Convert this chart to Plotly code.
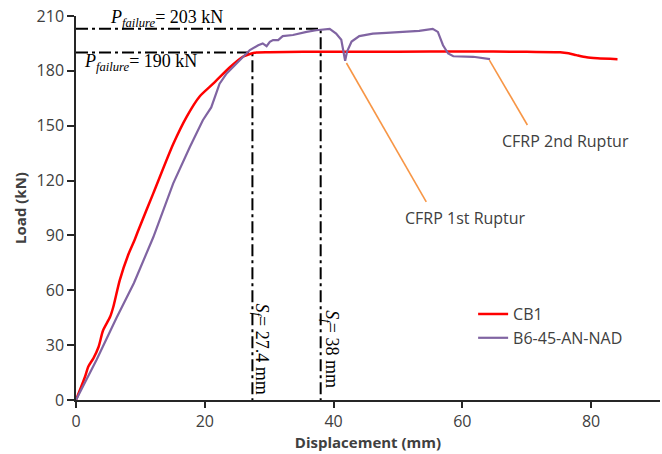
import plotly.graph_objects as go

# Load-displacement response of the control beam and the strengthened beam
cb1_disp = [0, 1.4, 1.9, 2.7, 3.5, 4.2, 5.3, 5.8, 6.8, 8.1, 9.1, 9.7, 12.0, 15.1,
            17.2, 19.2, 21.3, 23.9, 25.9, 27.0, 28.0, 30, 40, 50, 60, 70, 75.2,
            76.5, 77.7, 79.3, 81.0, 84.1]
cb1_load = [0, 12.7, 18.2, 22.8, 29, 38, 45.5, 51, 65.6, 79.3, 87.5, 93, 113, 140,
            155, 166, 173, 182, 187.7, 189.2, 190, 190.2, 190.5, 190.5, 190.6, 190.4,
            190.2, 189.6, 188.6, 187.4, 186.9, 186.4]

b6_disp = [0, 3.2, 6.3, 9.0, 12.0, 15.1, 17.7, 19.7, 21.0, 22.3, 23.4, 24.9, 26.5,
           27.0, 28.3, 29.0, 29.6, 30.1, 30.6, 31.4, 32.1, 33.7, 35.8, 37.3, 39.4,
           40.4, 41.2, 41.8, 42.1, 42.8, 44.0, 46.1, 48.2, 53.3, 55.4, 56.2, 57.0,
           57.8, 58.6, 61.7, 64.3]
b6_load = [0, 22, 45, 64, 89, 118.5, 138.5, 153, 160, 173, 178.6, 184, 189.5,
           191.4, 194, 195, 193.5, 195.9, 196.8, 196.8, 199, 199.6, 201.3, 202.2, 203,
           200.4, 197, 185.5, 190.6, 196, 199, 200.4, 200.8, 201.9, 203, 201.3, 194,
           189.5, 188, 187.7, 186.4]

series_names = ["CB1", "B6-45-AN-NAD"]
series_colors = ["#FF0000", "#8064A2"]

# Failure loads (kN) and the matching displacements (mm)
p_failure = [190, 203]
s_failure = [27.4, 38]

# Callouts for the CFRP rupture events: (start on curve, end of leader, label centre)
rupture_labels = ["CFRP 1st Ruptur", "CFRP 2nd Ruptur"]
rupture_start = [(42.0, 184.3), (64.2, 185.9)]
rupture_end = [(54.4, 108.4), (70.1, 150.4)]
rupture_text_pos = [(60.5, 99.3), (76.0, 141.4)]

x_ticks = [0, 20, 40, 60, 80]
y_ticks = [0, 30, 60, 90, 120, 150, 180, 210]

axis_color = "#262626"
text_color = "#404040"
ref_dash = "12px,4px,3px,4px"

fig = go.Figure()

# Dash-dot reference lines for each failure point
for p, s in zip(p_failure, s_failure):
    fig.add_trace(go.Scatter(
        x=[0, s, s], y=[p, p, 0], mode="lines",
        line=dict(color="black", width=2, dash=ref_dash),
        showlegend=False, hoverinfo="skip"))

fig.add_trace(go.Scatter(x=cb1_disp, y=cb1_load, mode="lines", name=series_names[0],
                         line=dict(color=series_colors[0], width=2.5,
                                   shape="spline", smoothing=0.7)))
fig.add_trace(go.Scatter(x=b6_disp, y=b6_load, mode="lines", name=series_names[1],
                         line=dict(color=series_colors[1], width=2.2)))

# Leader lines for the rupture callouts
for (x0, y0), (x1, y1) in zip(rupture_start, rupture_end):
    fig.add_trace(go.Scatter(x=[x0, x1], y=[y0, y1], mode="lines",
                             line=dict(color="#F79646", width=1.6),
                             showlegend=False, hoverinfo="skip"))

serif = "Liberation Serif"
annotations = []
annotations.append(dict(x=4.9, y=p_failure[1], yshift=10, xanchor="left", yanchor="middle",
                        text=f"<i>P</i><sub><i>failure</i></sub>= {p_failure[1]} kN",
                        showarrow=False, font=dict(family=serif, size=18, color="black")))
annotations.append(dict(x=0.9, y=p_failure[0], yshift=-10, xanchor="left", yanchor="middle",
                        text=f"<i>P</i><sub><i>failure</i></sub>= {p_failure[0]} kN",
                        showarrow=False, font=dict(family=serif, size=18, color="black")))
for s, shift in zip(s_failure, [8, 9]):
    annotations.append(dict(x=s, y=27.9, xshift=shift, textangle=90,
                            text=f"<i>S</i><sub><i>f</i></sub>= {s:g} mm",
                            showarrow=False, font=dict(family=serif, size=18, color="black")))
for label, (tx, ty) in zip(rupture_labels, rupture_text_pos):
    annotations.append(dict(x=tx, y=ty, text=label, showarrow=False,
                            font=dict(family="Open Sans", size=16, color=text_color)))

fig.update_layout(
    width=662, height=454,
    margin=dict(l=76, r=2, t=16, b=54),
    paper_bgcolor="white", plot_bgcolor="white",
    font=dict(family="Open Sans", size=16, color=text_color),
    showlegend=True,
    legend=dict(x=0.68, y=0.268, xanchor="left", yanchor="top",
                bgcolor="rgba(255,255,255,0)", font=dict(size=16, color=text_color),
                tracegroupgap=0, itemwidth=30),
    annotations=annotations,
)

fig.update_xaxes(
    range=[0, 90.7], tickvals=x_ticks, showgrid=False, zeroline=False,
    showline=True, linecolor=axis_color, linewidth=1.5,
    ticks="outside", ticklen=6, tickwidth=1.5, tickcolor=axis_color,
    tickfont=dict(size=16, color=text_color),
    title=dict(text="<b>Displacement (mm)</b>", standoff=0,
               font=dict(size=15, color=text_color)))
fig.update_yaxes(
    range=[0, 210], tickvals=y_ticks, showgrid=False, zeroline=False,
    showline=True, linecolor=axis_color, linewidth=1.5,
    ticks="outside", ticklen=7, tickwidth=1.5, tickcolor=axis_color,
    tickfont=dict(size=16, color=text_color),
    title=dict(text="<b>Load (kN)</b>", standoff=6,
               font=dict(size=15, color=text_color)))

fig.write_html("out.html")
